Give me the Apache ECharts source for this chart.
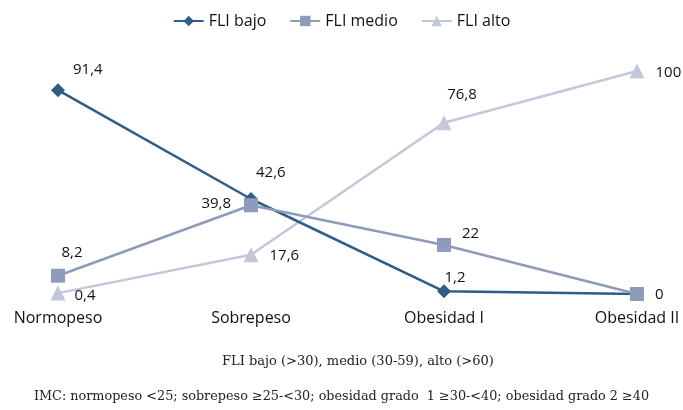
<!DOCTYPE html>
<html>
<head>
<meta charset="utf-8">
<script src="https://cdn.jsdelivr.net/npm/echarts@6/dist/echarts.min.js"></script>
<style>
  html, body { margin: 0; padding: 0; background: #fff; }
  #chart { width: 683px; height: 410px; }
</style>
</head>
<body>
<div id="chart"></div>
<script>
  const categories = ['Normopeso', 'Sobrepeso', 'Obesidad I', 'Obesidad II']
  const fliBajo = [91.4, 42.6, 1.2, 0]
  const fliMedio = [8.2, 39.8, 22, 0]
  const fliAlto = [0.4, 17.6, 76.8, 100]

  // where each value label sits relative to its point
  const bajoLabels = [['right', [3, -20]], ['right', [-7, -26]], ['top', [11, 6]], null]
  const medioLabels = [['top', [14, -3]], ['left', [-8, -2]], ['right', [6, -11]], ['right', [6, 1]]]
  const altoLabels = [['right', [4, 3]], ['right', [6, 1]], ['top', [18, -8]], ['right', [6, 2]]]

  const fmt = v => String(v).replace('.', ',')

  function withLabels (values, labels) {
    return values.map(function (v, i) {
      const l = labels[i]
      if (!l) return { value: v, label: { show: false } }
      return { value: v, label: { show: true, position: l[0], offset: l[1] } }
    })
  }

  const labelStyle = {
    color: '#111',
    fontSize: 15,
    fontFamily: 'Open Sans',
    formatter: p => fmt(p.value)
  }

  const chart = echarts.init(document.getElementById('chart'))
  chart.setOption({
    animation: false,
    textStyle: { fontFamily: 'Open Sans' },
    legend: {
      top: 8,
      left: 'center',
      itemWidth: 30,
      itemHeight: 13,
      itemGap: 23,
      textStyle: { fontSize: 16, color: '#111', fontFamily: 'Open Sans' },
      data: ['FLI bajo', 'FLI medio', 'FLI alto']
    },
    grid: { left: 58, right: 46, top: 71, bottom: 116 },
    xAxis: {
      type: 'category',
      data: categories,
      boundaryGap: false,
      axisLine: { show: false },
      axisTick: { show: false },
      axisLabel: { color: '#111', fontSize: 16, margin: 16, fontFamily: 'Open Sans' }
    },
    yAxis: {
      type: 'value',
      min: 0,
      max: 100,
      show: false,
      splitLine: { show: false }
    },
    graphic: [
      {
        type: 'text',
        left: 222,
        top: 355,
        style: {
          text: 'FLI bajo (>30), medio (30-59), alto (>60)',
          font: '13px "DejaVu Serif"',
          fill: '#222'
        }
      },
      {
        type: 'text',
        left: 'center',
        top: 390,
        style: {
          text: 'IMC: normopeso <25; sobrepeso ≥25-<30; obesidad grado  1 ≥30-<40; obesidad grado 2 ≥40',
          font: '12.8px "DejaVu Serif"',
          fill: '#222'
        }
      }
    ],
    series: [
      {
        name: 'FLI bajo',
        type: 'line',
        z: 2,
        data: withLabels(fliBajo, bajoLabels),
        symbol: 'diamond',
        symbolSize: 14,
        color: '#2f5d88',
        lineStyle: { width: 2.5, color: '#2f5d88' },
        itemStyle: { color: '#2f5d88' },
        label: labelStyle
      },
      {
        name: 'FLI medio',
        type: 'line',
        z: 3,
        data: withLabels(fliMedio, medioLabels),
        symbol: 'rect',
        symbolSize: 14,
        color: '#8e9bbb',
        lineStyle: { width: 2.5, color: '#8e9bbb' },
        itemStyle: { color: '#8e9bbb' },
        label: labelStyle
      },
      {
        name: 'FLI alto',
        type: 'line',
        z: 1,
        data: withLabels(fliAlto, altoLabels),
        symbol: 'triangle',
        symbolSize: 15,
        color: '#c2c7d9',
        lineStyle: { width: 2.5, color: '#c2c7d9' },
        itemStyle: { color: '#c2c7d9' },
        label: labelStyle
      }
    ]
  })
</script>
</body>
</html>
